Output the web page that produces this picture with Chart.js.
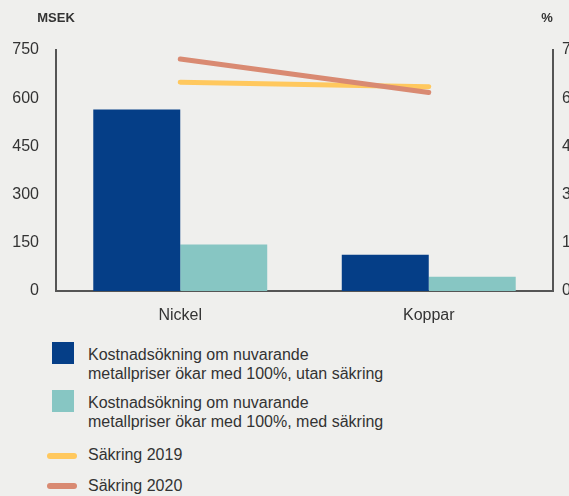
<!DOCTYPE html>
<html lang="sv">
<head>
<meta charset="utf-8">
<script src="https://cdn.jsdelivr.net/npm/chart.js@4/dist/chart.umd.min.js"></script>
<style>
  html, body { margin: 0; padding: 0; }
  body {
    width: 569px; height: 496px; overflow: hidden; position: relative;
    background: #EFEFED;
    font-family: "Liberation Sans", Arial, Helvetica, sans-serif;
    color: #333;
  }
  #chartWrap { position: absolute; left: 0; top: 0; width: 600px; height: 330px; }
  .lg-item { position: absolute; left: 0; width: 569px; }
  .lg-box { position: absolute; left: 52px; width: 22px; height: 22px; }
  .lg-line { position: absolute; left: 47px; width: 30px; height: 6px; border-radius: 3px; }
  .lg-text { position: absolute; left: 88px; font-size: 16px; line-height: 18.5px; white-space: nowrap; }
</style>
</head>
<body>
<div id="chartWrap"><canvas id="c" width="600" height="330"></canvas></div>
<div id="legend"></div>
<script>
// Kategorier och serier
const categories = ["Nickel", "Koppar"];
const utanSakring = [565, 113];   // MSEK
const medSakring  = [145, 44];    // MSEK
const sakring2019 = [65, 63.6];   // %
const sakring2020 = [72.2, 61.8]; // %

const leftTicks  = [0, 150, 300, 450, 600, 750];
const rightTicks = [0, 15, 30, 45, 60, 75];

const labelUtan = ["Kostnadsökning om nuvarande", "metallpriser ökar med 100%, utan säkring"];
const labelMed  = ["Kostnadsökning om nuvarande", "metallpriser ökar med 100%, med säkring"];
const label2019 = "Säkring 2019";
const label2020 = "Säkring 2020";

const colDark = "#053E87";
const colTeal = "#87C6C3";
const colYellow = "#FFC85E";
const colSalmon = "#D98A72";
const textCol = "#333333";
const axisCol = "#555555";
const fontFam = "'Liberation Sans', Arial, Helvetica, sans-serif";

// Enhetsrubriker ovanför axlarna
const unitTitles = {
  id: "unitTitles",
  afterDraw(chart) {
    const { ctx, scales } = chart;
    ctx.save();
    ctx.fillStyle = textCol;
    ctx.font = "bold 13px " + fontFam;
    ctx.textBaseline = "middle";
    ctx.textAlign = "center";
    ctx.fillText("MSEK", scales.y.right, 18);
    ctx.fillText("%", scales.y1.left - 6, 18);
    ctx.restore();
  }
};

const chart = new Chart(document.getElementById("c"), {
  data: {
    labels: categories,
    datasets: [
      { type: "line", label: label2020, data: sakring2020, yAxisID: "y1",
        borderColor: colSalmon, backgroundColor: colSalmon, borderWidth: 5,
        borderCapStyle: "round", pointRadius: 0, order: 0 },
      { type: "line", label: label2019, data: sakring2019, yAxisID: "y1",
        borderColor: colYellow, backgroundColor: colYellow, borderWidth: 5,
        borderCapStyle: "round", pointRadius: 0, order: 1 },
      { type: "bar", label: labelUtan.join(" "), data: utanSakring, yAxisID: "y",
        backgroundColor: colDark, categoryPercentage: 0.7, barPercentage: 1.0, order: 2 },
      { type: "bar", label: labelMed.join(" "), data: medSakring, yAxisID: "y",
        backgroundColor: colTeal, categoryPercentage: 0.7, barPercentage: 1.0, order: 2 }
    ]
  },
  options: {
    responsive: false,
    devicePixelRatio: 1,
    animation: false,
    layout: { padding: { top: 50, left: 0, right: 0, bottom: 0 } },
    plugins: { legend: { display: false }, tooltip: { enabled: false } },
    scales: {
      x: {
        grid: { display: false, drawTicks: false },
        border: { display: true, color: axisCol, width: 2 },
        ticks: { color: textCol, font: { size: 16, family: fontFam }, padding: 15 },
        afterFit(s) { s.height = 39; }
      },
      y: {
        position: "left", min: 0, max: 750,
        grid: { display: false, drawTicks: false },
        border: { display: true, color: axisCol, width: 2 },
        afterBuildTicks(s) { s.ticks = leftTicks.map(v => ({ value: v })); },
        ticks: { color: textCol, font: { size: 16, family: fontFam }, padding: 17 },
        afterFit(s) { s.width = 56; }
      },
      y1: {
        position: "right", min: 0, max: 75,
        grid: { display: false, drawTicks: false },
        border: { display: true, color: axisCol, width: 2 },
        afterBuildTicks(s) { s.ticks = rightTicks.map(v => ({ value: v })); },
        ticks: { color: textCol, font: { size: 16, family: fontFam }, padding: 9 },
        afterFit(s) { s.width = 47; }
      }
    }
  },
  plugins: [unitTitles]
});

// Förklaring under diagrammet
const legendItems = [
  { kind: "box",  color: colDark,   lines: labelUtan, boxTop: 342, textTop: 346 },
  { kind: "box",  color: colTeal,   lines: labelMed,  boxTop: 390, textTop: 394 },
  { kind: "line", color: colYellow, lines: [label2019], boxTop: 453, textTop: 446 },
  { kind: "line", color: colSalmon, lines: [label2020], boxTop: 483, textTop: 477 }
];
const legendEl = document.getElementById("legend");
legendItems.forEach(it => {
  const sw = document.createElement("div");
  sw.className = it.kind === "box" ? "lg-box" : "lg-line";
  sw.style.top = it.boxTop + "px";
  sw.style.background = it.color;
  legendEl.appendChild(sw);
  const tx = document.createElement("div");
  tx.className = "lg-text";
  tx.style.top = it.textTop + "px";
  tx.innerHTML = it.lines.join("<br>");
  legendEl.appendChild(tx);
});
</script>
</body>
</html>
